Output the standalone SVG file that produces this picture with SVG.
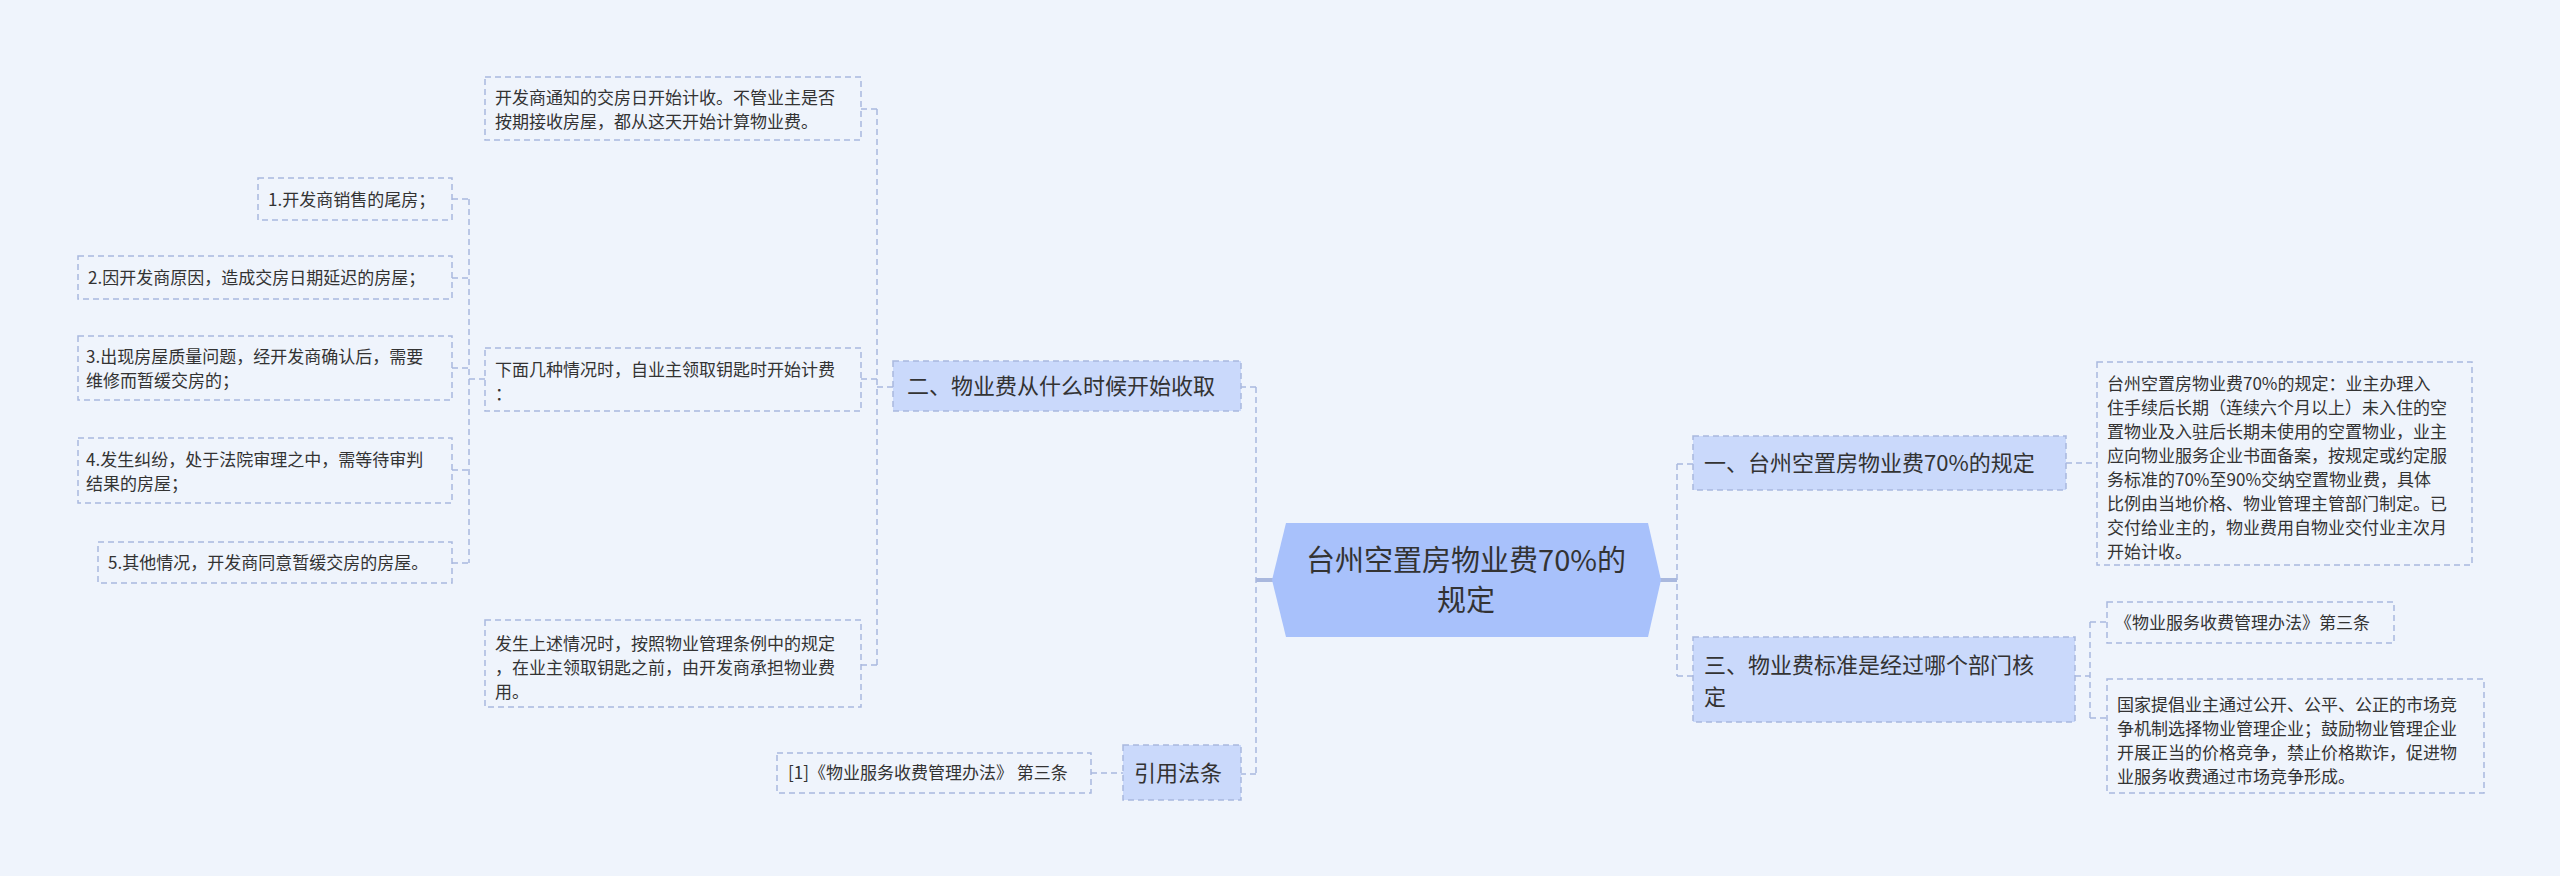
<svg xmlns="http://www.w3.org/2000/svg" width="2560" height="876" viewBox="0 0 2560 876">
<style>
text{font-family:"Noto Sans CJK SC","Liberation Sans",sans-serif;fill:#333}
.leaf{fill:#eff4fc;stroke:#a9b8de;stroke-width:1.5;stroke-dasharray:6 4}
.br{fill:#cad9fb;stroke:#a9b8de;stroke-width:1.5;stroke-dasharray:6 4}
.t{font-size:17px}
.b{font-size:22px}
.c{fill:none;stroke:#a9b8de;stroke-width:1.5;stroke-dasharray:6 4}
</style>
<rect width="2560" height="876" fill="#eff4fc"/>
<g id="connectors">
<path class="c" d="M1256 387V774"/>
<path class="c" d="M1256 387H1241M1256 774H1241"/>
<path d="M1256 580H1274" stroke="#a9b8de" stroke-width="4"/>
<path class="c" d="M877 109V665M877 387H893M861 109H877M861 379H877M861 665H877"/>
<path class="c" d="M469 199V563M469 379H485M452 199H469M452 278H469M452 368H469M452 470H469M452 563H469"/>
<path class="c" d="M1091 773H1123"/>
<path d="M1659 580H1677" stroke="#a9b8de" stroke-width="4"/>
<path class="c" d="M1677 464V676M1677 464H1693M1677 676H1693"/>
<path class="c" d="M2066 463H2097"/>
<path class="c" d="M2075 676H2090M2090 622V718M2090 622H2107M2090 718H2107"/>
</g>
<g id="root">
<polygon points="1286,523 1648,523 1661,580 1648,637 1286,637 1272,580" fill="#a8c1fb"/>
<text x="1466" y="571" font-size="29" text-anchor="middle">台州空置房物业费70%的</text>
<text x="1466" y="611" font-size="29" text-anchor="middle">规定</text>
</g>
<g id="n2"><rect class="br" x="893" y="361" width="348" height="50"/><text class="b" x="907" y="394">二、物业费从什么时候开始收取</text></g>
<g id="nA"><rect class="leaf" x="485" y="77" width="376" height="63"/><text class="t" x="495" y="104">开发商通知的交房日开始计收。不管业主是否</text><text class="t" x="495" y="128">按期接收房屋，都从这天开始计算物业费。</text></g>
<g id="nB"><rect class="leaf" x="485" y="348" width="376" height="63"/><text class="t" x="495" y="376">下面几种情况时，自业主领取钥匙时开始计费</text><text class="t" x="495" y="400">：</text></g>
<g id="nC"><rect class="leaf" x="485" y="620" width="376" height="87"/><text class="t" x="495" y="650">发生上述情况时，按照物业管理条例中的规定</text><text class="t" x="495" y="674">，在业主领取钥匙之前，由开发商承担物业费</text><text class="t" x="495" y="698">用。</text></g>
<g id="l1"><rect class="leaf" x="258" y="178" width="194" height="42"/><text class="t" x="268" y="206">1.开发商销售的尾房；</text></g>
<g id="l2"><rect class="leaf" x="78" y="256" width="374" height="43"/><text class="t" x="88" y="284">2.因开发商原因，造成交房日期延迟的房屋；</text></g>
<g id="l3"><rect class="leaf" x="78" y="336" width="374" height="64"/><text class="t" x="86" y="363">3.出现房屋质量问题，经开发商确认后，需要</text><text class="t" x="86" y="387">维修而暂缓交房的；</text></g>
<g id="l4"><rect class="leaf" x="78" y="438" width="374" height="65"/><text class="t" x="86" y="466">4.发生纠纷，处于法院审理之中，需等待审判</text><text class="t" x="86" y="490">结果的房屋；</text></g>
<g id="l5"><rect class="leaf" x="98" y="542" width="354" height="41"/><text class="t" x="108" y="569">5.其他情况，开发商同意暂缓交房的房屋。</text></g>
<g id="n4"><rect class="br" x="1123" y="745" width="118" height="55"/><text class="b" x="1134" y="781">引用法条</text></g>
<g id="l6"><rect class="leaf" x="777" y="753" width="314" height="40"/><text class="t" x="788" y="779">[1]《物业服务收费管理办法》 第三条</text></g>
<g id="n1"><rect class="br" x="1693" y="436" width="373" height="54"/><text class="b" x="1704" y="471">一、台州空置房物业费70%的规定</text></g>
<g id="n3"><rect class="br" x="1693" y="637" width="382" height="85"/><text class="b" x="1704" y="673">三、物业费标准是经过哪个部门核</text><text class="b" x="1704" y="705">定</text></g>
<g id="r1"><rect class="leaf" x="2097" y="362" width="375" height="203"/>
<text class="t" x="2107" y="390">台州空置房物业费70%的规定：业主办理入</text>
<text class="t" x="2107" y="414">住手续后长期（连续六个月以上）未入住的空</text>
<text class="t" x="2107" y="438">置物业及入驻后长期未使用的空置物业，业主</text>
<text class="t" x="2107" y="462">应向物业服务企业书面备案，按规定或约定服</text>
<text class="t" x="2107" y="486">务标准的70%至90%交纳空置物业费，具体</text>
<text class="t" x="2107" y="510">比例由当地价格、物业管理主管部门制定。已</text>
<text class="t" x="2107" y="534">交付给业主的，物业费用自物业交付业主次月</text>
<text class="t" x="2107" y="558">开始计收。</text></g>
<g id="r2"><rect class="leaf" x="2107" y="602" width="287" height="41"/><text class="t" x="2115" y="629">《物业服务收费管理办法》第三条</text></g>
<g id="r3"><rect class="leaf" x="2107" y="679" width="377" height="114"/>
<text class="t" x="2117" y="711">国家提倡业主通过公开、公平、公正的市场竞</text>
<text class="t" x="2117" y="735">争机制选择物业管理企业；鼓励物业管理企业</text>
<text class="t" x="2117" y="759">开展正当的价格竞争，禁止价格欺诈，促进物</text>
<text class="t" x="2117" y="783">业服务收费通过市场竞争形成。</text></g>
</svg>
